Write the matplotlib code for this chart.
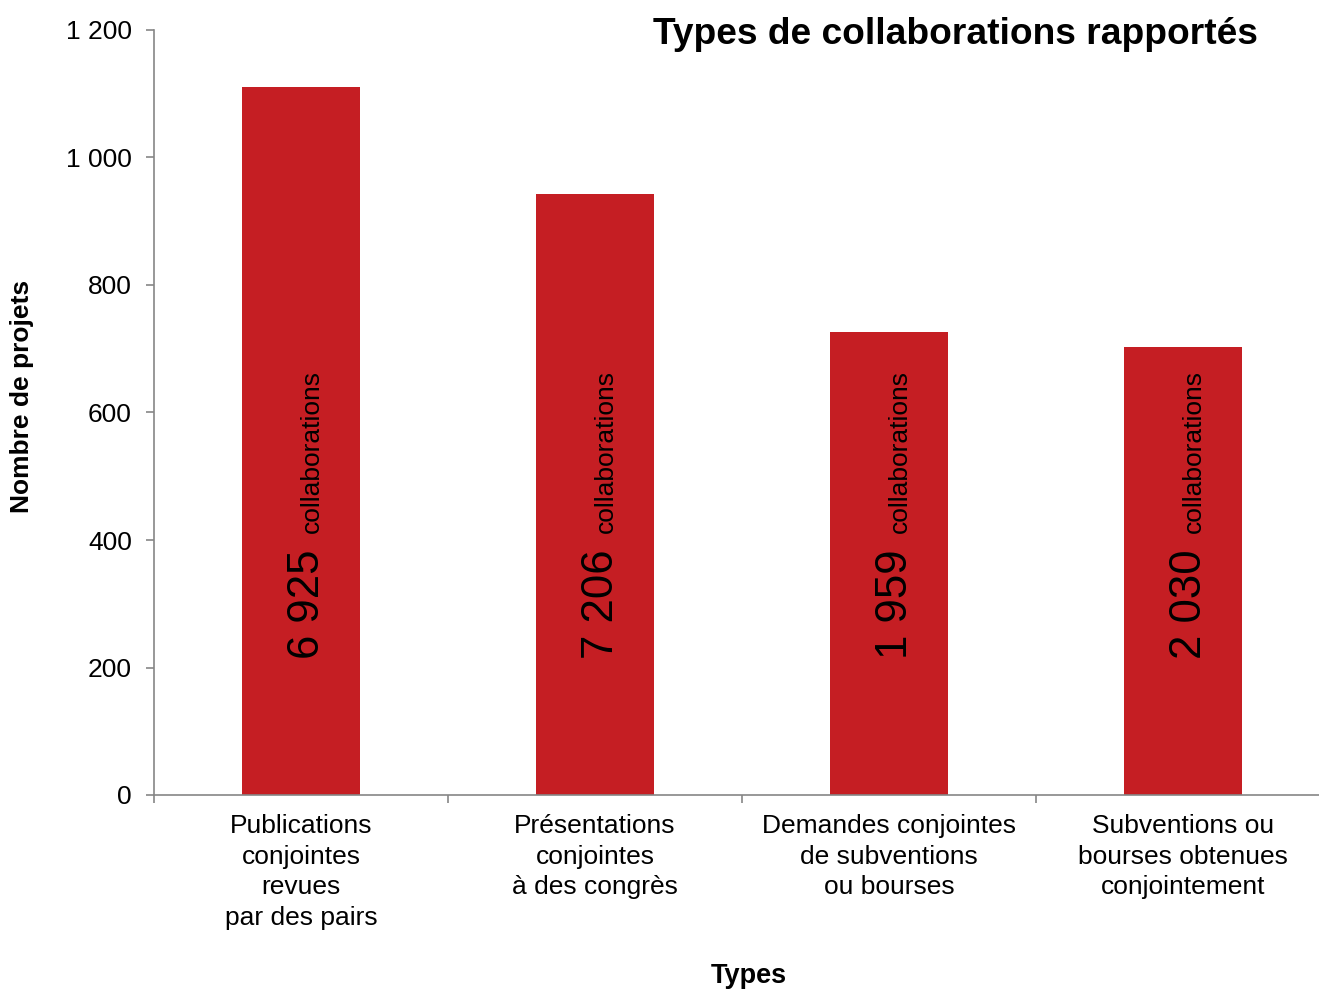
import matplotlib
matplotlib.use('Agg')
import matplotlib.pyplot as plt
from matplotlib.ticker import FuncFormatter, FixedLocator

plt.rcParams['font.family'] = ['Liberation Sans', 'DejaVu Sans']

# données
categories = [
    "Publications\nconjointes\nrevues\npar des pairs",
    "Présentations\nconjointes\nà des congrès",
    "Demandes conjointes\nde subventions\nou bourses",
    "Subventions ou\nbourses obtenues\nconjointement",
]
nb_projets = [1111, 942, 727, 703]
nb_collaborations = ["6 925", "7 206", "1 959", "2 030"]

bar_color = '#C51E23'
axis_color = '#868686'

fig = plt.figure(figsize=(13.19, 9.89), dpi=100)
ax = fig.add_axes([154 / 1319, 1 - 795 / 989, 1176 / 1319, 765 / 989])

x = list(range(len(categories)))
ax.bar(x, nb_projets, width=0.4, color=bar_color, zorder=2)

# texte dans les barres
for i, txt in enumerate(nb_collaborations):
    ax.text(i + 0.062, 214, txt, rotation=90, rotation_mode='anchor',
            ha='left', va='baseline', fontsize=31.5, color='black')
    ax.text(i + 0.062, 411, 'collaborations', rotation=90, rotation_mode='anchor',
            ha='left', va='baseline', fontsize=19, color='black')

ax.set_xlim(-0.5, 3.5)
ax.set_ylim(0, 1200)
ax.set_yticks(range(0, 1201, 200))
ax.yaxis.set_major_formatter(FuncFormatter(lambda v, p: f"{int(v):,}".replace(',', ' ')))

# ticks x aux frontières des catégories, labels au centre
ax.xaxis.set_major_locator(FixedLocator([-0.5, 0.5, 1.5, 2.5]))
ax.xaxis.set_major_formatter(FuncFormatter(lambda v, p: ''))
ax.xaxis.set_minor_locator(FixedLocator(x))
ax.set_xticklabels(categories, minor=True, fontsize=19, linespacing=1.34)
ax.tick_params(axis='x', which='minor', length=0, pad=14)
ax.tick_params(axis='x', which='major', length=6, width=1.2, color=axis_color, direction='out')
ax.tick_params(axis='y', length=6, width=1.2, color=axis_color, direction='out',
               labelsize=19, pad=10)

for s in ['top', 'right']:
    ax.spines[s].set_visible(False)
for s in ['left', 'bottom']:
    ax.spines[s].set_color(axis_color)
    ax.spines[s].set_linewidth(1.2)

fig.text(1258 / 1319, 1 - 34 / 989, 'Types de collaborations rapportés',
         ha='right', va='center', fontsize=26.7, fontweight='bold')
fig.text(749 / 1319, 1 - 976 / 989, 'Types', ha='center', va='center',
         fontsize=19.5, fontweight='bold')
fig.text(22 / 1319, 1 - 396 / 989, 'Nombre de projets', ha='center', va='center',
         rotation=90, fontsize=19, fontweight='bold')

fig.savefig('out.png', dpi=100)
plt.close()
